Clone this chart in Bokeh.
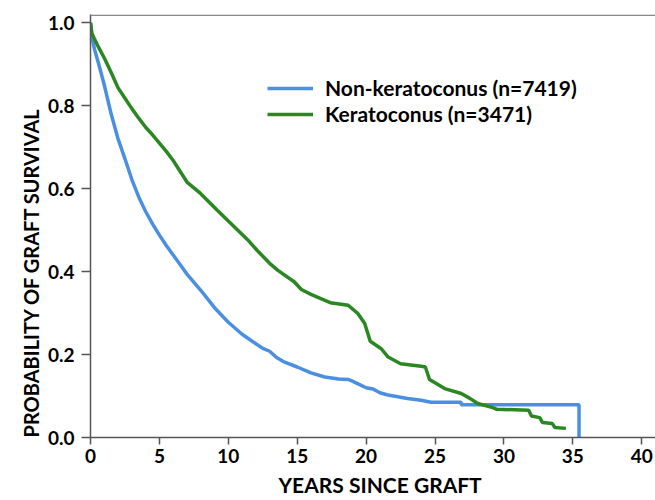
from bokeh.plotting import figure
from bokeh.models import (Title, Span, Legend, LegendItem, FixedTicker,
                          PrintfTickFormatter, Range1d)
from bokeh.embed import file_html
from bokeh.resources import INLINE

# ---- data ----
years_non = [0, 0.1, 0.3, 0.6, 1.0, 1.5, 2.0, 2.5, 3.0, 3.5, 4.0, 4.5, 5.0, 5.5,
             6.0, 6.5, 7.0, 8.0, 9.0, 10.0, 11.0, 12.0, 12.5, 13.0, 13.5, 14.0,
             15.0, 16.0, 17.0, 18.0, 18.7, 19.0, 19.5, 20.0, 20.5, 21.0, 21.5,
             22.0, 23.0, 24.0, 24.7, 26.9, 26.9, 35.45, 35.45]
surv_non = [1.0, 0.965, 0.935, 0.90, 0.85, 0.78, 0.72, 0.672, 0.622, 0.58, 0.545,
            0.515, 0.488, 0.463, 0.44, 0.417, 0.394, 0.355, 0.313, 0.278, 0.249,
            0.226, 0.215, 0.208, 0.193, 0.183, 0.17, 0.156, 0.146, 0.141, 0.140,
            0.136, 0.128, 0.120, 0.117, 0.108, 0.103, 0.100, 0.094, 0.090, 0.085,
            0.085, 0.079, 0.079, 0.0]

years_ker = [0, 0.1, 0.3, 0.6, 1.0, 1.5, 2.0, 2.5, 3.0, 3.5, 4.0, 4.5, 5.0, 5.5,
             6.0, 6.5, 7.0, 8.0, 9.2, 10.0, 11.4, 12.1, 13.0, 13.6, 14.8, 15.3,
             16.0, 16.5, 17.4, 18.7, 19.4, 19.9, 20.3, 21.1, 21.6, 22.5, 24.0,
             24.3, 24.6, 25.7, 26.9, 27.5, 28.1, 29.2, 29.5, 31.8, 32.0, 32.6,
             32.8, 33.5, 33.7, 34.5]
surv_ker = [1.0, 0.975, 0.96, 0.94, 0.915, 0.88, 0.843, 0.818, 0.793, 0.77,
            0.748, 0.73, 0.71, 0.69, 0.668, 0.642, 0.616, 0.588, 0.548, 0.522,
            0.477, 0.451, 0.42, 0.403, 0.375, 0.357, 0.345, 0.338, 0.325, 0.319,
            0.299, 0.275, 0.232, 0.214, 0.194, 0.178, 0.172, 0.170, 0.140, 0.118,
            0.106, 0.095, 0.082, 0.072, 0.068, 0.066, 0.052, 0.048, 0.036, 0.034,
            0.024, 0.022]

x_ticks = [0, 5, 10, 15, 20, 25, 30, 35, 40]
y_ticks = [0.0, 0.2, 0.4, 0.6, 0.8, 1.0]
label_non = "Non-keratoconus (n=7419)"
label_ker = "Keratoconus (n=3471)"
x_title = "YEARS SINCE GRAFT"
y_title = "PROBABILITY OF GRAFT SURVIVAL"

BLUE = "#4a8fe2"
GREEN = "#2a8722"
FONT = "Lato"
AXC = "#555555"

p = figure(width=655, height=500, output_backend="svg", toolbar_location=None,
           x_range=Range1d(0, 41), y_range=Range1d(0, 1.02),
           min_border_left=90, min_border_right=0, min_border_top=14,
           min_border_bottom=63, title=None)

p.xgrid.visible = False
p.ygrid.visible = False
p.outline_line_color = None
p.background_fill_color = "white"
p.border_fill_color = "white"

r_non = p.line(years_non, surv_non, line_color=BLUE, line_width=3.5)
r_ker = p.line(years_ker, surv_ker, line_color=GREEN, line_width=3.5)

for ax in (p.xaxis[0], p.yaxis[0]):
    ax.axis_line_color = AXC
    ax.axis_line_width = 1.5
    ax.major_tick_line_color = AXC
    ax.major_tick_line_width = 1.5
    ax.major_tick_in = 0
    ax.minor_tick_line_color = None
    ax.major_label_text_font = FONT
    ax.major_label_text_font_style = "bold"
    ax.major_label_text_font_size = "19px"
    ax.major_label_text_color = "black"

p.xaxis[0].ticker = FixedTicker(ticks=x_ticks)
p.xaxis[0].major_tick_out = 7
p.xaxis[0].major_label_standoff = 4
p.yaxis[0].ticker = FixedTicker(ticks=y_ticks)
p.yaxis[0].formatter = PrintfTickFormatter(format="%.1f")
p.yaxis[0].major_tick_out = 9
p.yaxis[0].major_label_standoff = 7

# top border line
p.add_layout(Span(location=1.018, dimension="width", line_color="#888888",
                  line_width=1.5))

p.add_layout(Title(text=y_title, align="left", text_font=FONT,
                   text_font_style="bold", text_font_size="20px",
                   text_color="black", standoff=4), "left")
p.add_layout(Title(text=x_title, align="left", offset=188, text_font=FONT,
                   text_font_style="bold", text_font_size="21px",
                   text_color="black", standoff=8), "below")

legend = Legend(items=[LegendItem(label=label_non, renderers=[r_non]),
                       LegendItem(label=label_ker, renderers=[r_ker])],
                location=(177, 311), border_line_color=None,
                background_fill_alpha=0, padding=0, margin=0, spacing=1,
                glyph_width=46, glyph_height=22, label_height=22,
                label_standoff=12, label_text_font=FONT,
                label_text_font_style="bold", label_text_font_size="21px",
                label_text_color="black")
p.add_layout(legend)

open("out.html", "w").write(file_html(p, INLINE))
